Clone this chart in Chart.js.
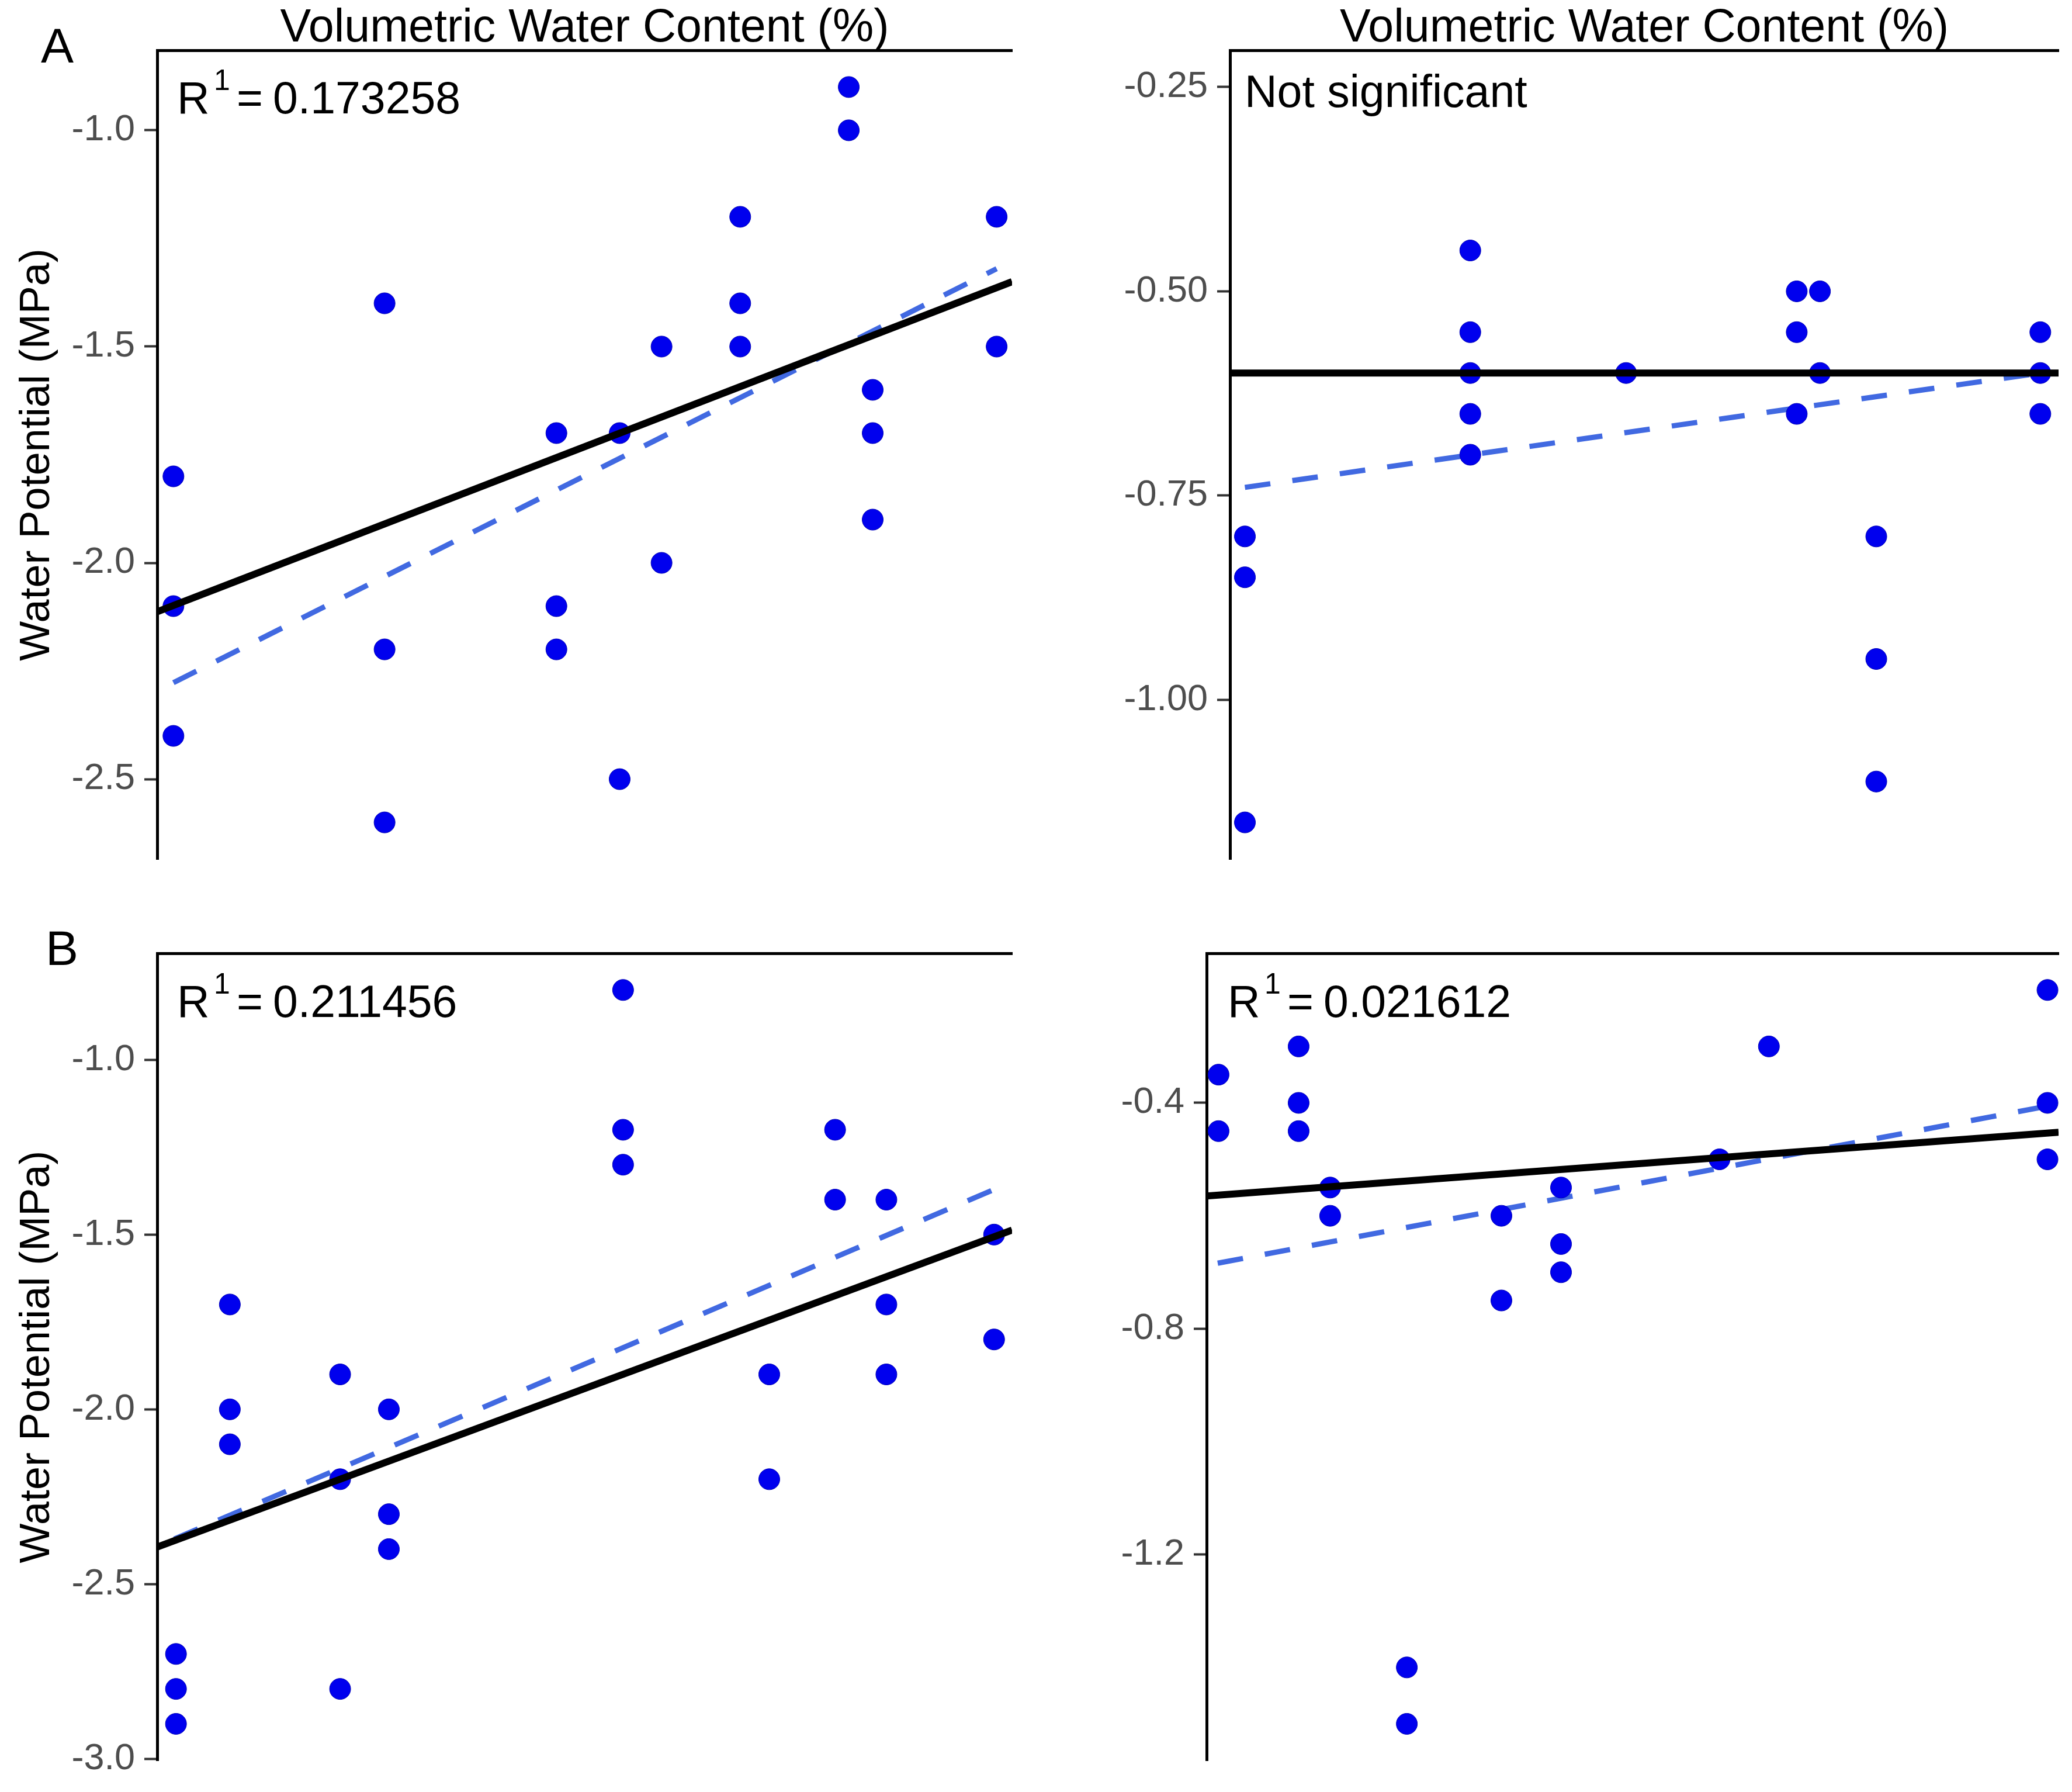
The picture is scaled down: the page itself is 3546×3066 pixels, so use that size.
<!DOCTYPE html>
<html>
<head>
<meta charset="utf-8">
<script src="https://cdn.jsdelivr.net/npm/chart.js@4.4.0/dist/chart.umd.min.js"></script>
<style>
  body { margin: 0; background: #fff; }
  #page { position: relative; width: 3546px; height: 3066px; background: #fff; }
  canvas { position: absolute; }
</style>
</head>
<body>
<div id="page">
  <canvas id="chartA" width="1773" height="1533" style="left:0;top:0"></canvas>
  <canvas id="chartA2" width="1773" height="1533" style="left:1773px;top:0"></canvas>
  <canvas id="chartB" width="1773" height="1533" style="left:0;top:1533px"></canvas>
  <canvas id="chartB2" width="1773" height="1533" style="left:1773px;top:1533px"></canvas>
</div>
<script>
const FONT = '"Liberation Sans", Arial, sans-serif';

// x is position along the (unlabelled) VWC axis, 0-100 across the panel
// Panel A, left
const aX = [1.9, 1.9, 1.9, 26.6, 26.6, 26.6, 46.7, 46.7, 46.7, 54.1, 54.1, 59.0, 59.0, 68.2, 68.2, 68.2, 80.9, 80.9, 83.7, 83.7, 83.7, 98.2, 98.2];
const aY = [-1.8, -2.1, -2.4, -1.4, -2.2, -2.6, -1.7, -2.1, -2.2, -1.7, -2.5, -1.5, -2.0, -1.2, -1.4, -1.5, -0.9, -1.0, -1.6, -1.7, -1.9, -1.2, -1.5];
const aFitX = [0, 100];
const aFitY = [-2.113, -1.350];
const aDashX = [1.9, 98.2];
const aDashY = [-2.277, -1.320];
const aTicks = [-2.5, -2.0, -1.5, -1.0];

// Panel A, right
const a2X = [1.8, 1.8, 1.8, 29.0, 29.0, 29.0, 29.0, 29.0, 47.8, 68.4, 68.4, 68.4, 71.2, 71.2, 78.0, 78.0, 78.0, 97.8, 97.8, 97.8];
const a2Y = [-0.80, -0.85, -1.15, -0.45, -0.55, -0.60, -0.65, -0.70, -0.60, -0.50, -0.55, -0.65, -0.50, -0.60, -0.80, -0.95, -1.10, -0.55, -0.60, -0.65];
const a2FitX = [0, 100];
const a2FitY = [-0.60, -0.60];
const a2DashX = [1.8, 97.8];
const a2DashY = [-0.740, -0.600];
const a2Ticks = [-1.00, -0.75, -0.50, -0.25];

// Panel B, left
const bX = [2.2, 2.2, 2.2, 8.5, 8.5, 8.5, 21.4, 21.4, 21.4, 27.1, 27.1, 27.1, 54.5, 54.5, 54.5, 71.6, 71.6, 79.3, 79.3, 85.3, 85.3, 85.3, 97.9, 97.9];
const bY = [-2.7, -2.8, -2.9, -1.7, -2.0, -2.1, -1.9, -2.2, -2.8, -2.0, -2.3, -2.4, -0.8, -1.2, -1.3, -1.9, -2.2, -1.2, -1.4, -1.4, -1.7, -1.9, -1.5, -1.8];
const bFitX = [0, 100];
const bFitY = [-2.394, -1.487];
const bDashX = [2.0, 97.9];
const bDashY = [-2.371, -1.371];
const bTicks = [-3.0, -2.5, -2.0, -1.5, -1.0];

// Panel B, right
const b2X = [1.4, 1.4, 10.8, 10.8, 10.8, 14.5, 14.5, 23.5, 23.5, 34.6, 34.6, 41.6, 41.6, 41.6, 60.2, 66.0, 98.7, 98.7, 98.7];
const b2Y = [-0.35, -0.45, -0.30, -0.40, -0.45, -0.55, -0.60, -1.40, -1.50, -0.60, -0.75, -0.55, -0.65, -0.70, -0.50, -0.30, -0.20, -0.40, -0.50];
const b2FitX = [0, 100];
const b2FitY = [-0.565, -0.452];
const b2DashX = [1.3, 98.6];
const b2DashY = [-0.684, -0.406];
const b2Ticks = [-1.2, -0.8, -0.4];

function pts(xs, ys) {
  return xs.map((x, i) => ({ x, y: ys[i] }));
}

// panel letter and R^1 / note text inside the plot
const annotate = {
  id: 'annotate',
  afterDraw(chart, args, o) {
    const ctx = chart.ctx;
    const area = chart.chartArea;
    ctx.save();
    ctx.fillStyle = '#000';
    ctx.textAlign = 'left';
    ctx.textBaseline = 'alphabetic';
    if (o.letter) {
      ctx.font = `84px ${FONT}`;
      ctx.fillText(o.letter, o.letterX, o.letterY);
    }
    const x = area.left + o.dx;
    const y = area.top + o.dy;
    ctx.font = `77px ${FONT}`;
    if (o.r) {
      ctx.fillText('R', x, y);
      ctx.fillText('=', x + 102, y);
      ctx.fillText(o.r, x + 164, y);
      ctx.font = `50px ${FONT}`;
      ctx.fillText('1', x + 63, y - 40);
    } else if (o.text) {
      ctx.fillText(o.text, x, y);
    }
    ctx.restore();
  }
};

function makePanel(id, p) {
  new Chart(document.getElementById(id), {
    type: 'scatter',
    data: {
      datasets: [
        { type: 'line', data: pts(p.fitX, p.fitY), borderColor: '#000', borderWidth: 12, pointRadius: 0, order: 0 },
        { data: pts(p.x, p.y), backgroundColor: '#0000ee', borderColor: '#0000b4', borderWidth: 1, pointRadius: 18, clip: false, order: 1 },
        { type: 'line', data: pts(p.dashX, p.dashY), borderColor: '#4169e1', borderWidth: 9, borderDash: [44, 38], pointRadius: 0, order: 2 }
      ]
    },
    options: {
      responsive: false,
      animation: false,
      devicePixelRatio: 1,
      layout: { padding: { left: 0, right: p.padRight, top: 0, bottom: p.padBottom } },
      plugins: { legend: { display: false }, tooltip: { enabled: false }, annotate: p.note },
      scales: {
        x: {
          type: 'linear', position: 'top', min: 0, max: 100,
          ticks: { display: false },
          grid: { display: false },
          border: { display: true, color: '#000', width: 5 },
          title: { display: !!p.xTitle, text: p.xTitle || '', color: '#000', font: { family: FONT, size: 79 }, padding: { top: 2, bottom: 0 } },
          afterFit: s => { s.height = p.top; }
        },
        y: {
          min: p.yMin, max: p.yMax,
          afterBuildTicks: s => { s.ticks = p.ticks.map(v => ({ value: v })); },
          ticks: { color: '#4d4d4d', font: { family: FONT, size: 63 }, padding: 16, callback: v => v.toFixed(p.dec) },
          grid: { drawOnChartArea: false, drawTicks: true, tickLength: 22, tickColor: '#333', tickWidth: 4 },
          border: { display: true, color: '#000', width: 5 },
          title: { display: !!p.yTitle, text: p.yTitle || '', color: '#000', font: { family: FONT, size: 72 }, padding: { top: 21, bottom: 0 } },
          afterFit: s => { s.width = p.left; }
        }
      }
    },
    plugins: [annotate]
  });
}

const xTitle = 'Volumetric Water Content (%)';
const yTitle = 'Water Potential (MPa)';

makePanel('chartA', {
  x: aX, y: aY, fitX: aFitX, fitY: aFitY, dashX: aDashX, dashY: aDashY, ticks: aTicks, dec: 1,
  yMin: -2.685, yMax: -0.815, left: 269, top: 86, padRight: 41, padBottom: 63,
  xTitle, yTitle,
  note: { letter: 'A', letterX: 70, letterY: 107, dx: 34, dy: 108, r: '0.173258' }
});
makePanel('chartA2', {
  x: a2X, y: a2Y, fitX: a2FitX, fitY: a2FitY, dashX: a2DashX, dashY: a2DashY, ticks: a2Ticks, dec: 2,
  yMin: -1.195, yMax: -0.205, left: 332, top: 86, padRight: 23, padBottom: 63,
  xTitle,
  note: { dx: 25, dy: 97, text: 'Not significant' }
});
makePanel('chartB', {
  x: bX, y: bY, fitX: bFitX, fitY: bFitY, dashX: bDashX, dashY: bDashY, ticks: bTicks, dec: 1,
  yMin: -3.005, yMax: -0.695, left: 269, top: 98, padRight: 41, padBottom: 51,
  yTitle,
  note: { letter: 'B', letterX: 78, letterY: 118, dx: 34, dy: 109, r: '0.211456' }
});
makePanel('chartB2', {
  x: b2X, y: b2Y, fitX: b2FitX, fitY: b2FitY, dashX: b2DashX, dashY: b2DashY, ticks: b2Ticks, dec: 1,
  yMin: -1.565, yMax: -0.135, left: 292, top: 98, padRight: 23, padBottom: 51,
  note: { dx: 36, dy: 109, r: '0.021612' }
});
</script>
</body>
</html>
